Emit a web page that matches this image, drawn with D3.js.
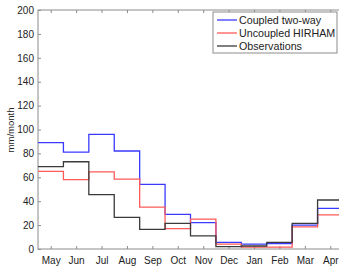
<!DOCTYPE html>
<html>
<head>
<meta charset="utf-8">
<script src="https://cdn.jsdelivr.net/npm/d3@7"></script>
<style>
  body { margin: 0; background: #fff; }
  svg { font-family: "Liberation Sans", Arial, sans-serif; }
</style>
</head>
<body>
<script>
// Monthly precipitation, stairs plot (May -> Apr)
const width = 339;
const height = 266;

const months = ["May", "Jun", "Jul", "Aug", "Sep", "Oct", "Nov", "Dec", "Jan", "Feb", "Mar", "Apr"];
const coupled = [89, 81, 96, 82, 54, 29, 22, 5.5, 4, 4.5, 20, 34];
const uncoupled = [65, 58, 64.5, 58.5, 35, 17, 25, 4, 1.5, 1.5, 18.5, 28.5];
const observations = [69, 73, 45.5, 26.5, 16.5, 21.5, 11, 2, 2.5, 5.5, 21.5, 41];
const yTicks = [0, 20, 40, 60, 80, 100, 120, 140, 160, 180, 200];

const series = [
    { name: "Coupled two-way", values: coupled, color: "#3a3aff" },
    { name: "Uncoupled HIRHAM", values: uncoupled, color: "#ff5a5a" },
    { name: "Observations", values: observations, color: "#3a3a3a" }
];

const margin = { left: 38, top: 10, bottom: 17 };
const plotRight = 343; // axis box runs slightly past the window edge

const x = d3.scaleLinear().domain([0.5, 12.5]).range([margin.left, plotRight]);
const y = d3.scaleLinear().domain([0, 200]).range([height - margin.bottom, margin.top]);

const svg = d3.select("body").append("svg")
    .attr("width", width)
    .attr("height", height);

// axis box
svg.append("rect")
    .attr("x", x(0.5)).attr("y", y(200))
    .attr("width", x(12.5) - x(0.5)).attr("height", y(0) - y(200))
    .attr("fill", "none").attr("stroke", "#8c8c8c").attr("stroke-width", 1);

const axisColor = "#8c8c8c";

// bottom and top axes (ticks pointing inward)
const xAxis = svg.append("g").attr("transform", `translate(0,${y(0)})`)
    .call(d3.axisBottom(x).tickValues(d3.range(1, 13)).tickSize(-3).tickPadding(6)
        .tickFormat(d => months[d - 1]));
const xTop = svg.append("g").attr("transform", `translate(0,${y(200)})`)
    .call(d3.axisTop(x).tickValues(d3.range(1, 13)).tickSize(-3).tickFormat(""));

const yAxis = svg.append("g").attr("transform", `translate(${x(0.5)},0)`)
    .call(d3.axisLeft(y).tickValues(yTicks).tickSize(-3).tickPadding(4));

[xAxis, xTop, yAxis].forEach(g => {
    g.select(".domain").remove();
    g.selectAll(".tick line").attr("stroke", axisColor);
    g.selectAll("text").attr("fill", "#222").style("font-size", "10px");
});
xAxis.selectAll("text").attr("dy", "0.85em");

// y label
svg.append("text")
    .attr("transform", `translate(14,130) rotate(-90)`)
    .attr("text-anchor", "middle")
    .style("font-size", "9.5px")
    .attr("fill", "#222")
    .text("mm/month");

// stairs
const stairs = vals => {
    const pts = [];
    vals.forEach((v, i) => {
        pts.push([x(i + 0.5), y(v)]);
        pts.push([x(i + 1.5), y(v)]);
    });
    return d3.line()(pts);
};

series.forEach(s => {
    svg.append("path")
        .attr("d", stairs(s.values))
        .attr("fill", "none")
        .attr("stroke", s.color)
        .attr("stroke-width", 1.3);
});

// legend
const legend = svg.append("g").attr("transform", "translate(213,12)");
legend.append("rect")
    .attr("width", 124).attr("height", 41)
    .attr("fill", "#fff").attr("stroke", "#8c8c8c");
series.forEach((s, i) => {
    const ly = 8 + i * 13;
    legend.append("line")
        .attr("x1", 4).attr("x2", 24).attr("y1", ly).attr("y2", ly)
        .attr("stroke", s.color).attr("stroke-width", 1.3);
    legend.append("text")
        .attr("x", 26).attr("y", ly + 4)
        .style("font-size", "10.7px")
        .attr("fill", "#222")
        .text(s.name);
});
</script>
</body>
</html>
